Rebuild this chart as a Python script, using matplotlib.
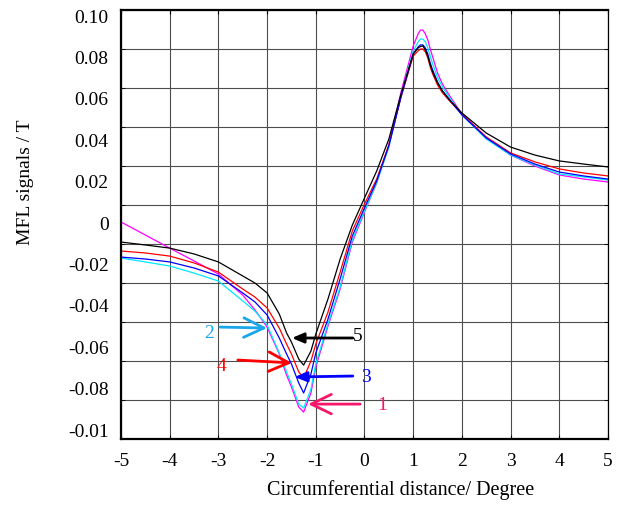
import matplotlib
matplotlib.use("Agg")
import matplotlib.pyplot as plt
import numpy as np

plt.rcParams['font.family'] = ['Liberation Serif', 'DejaVu Serif']
plt.rcParams['axes.unicode_minus'] = False

# circumferential position (degree)
x = [-5, -4.5, -4, -3.5, -3, -2.5, -2.25, -2, -1.75, -1.6,
     -1.5, -1.35, -1.25, -1.1, -1.0, -0.75, -0.5, -0.25, 0, 0.25,
     0.5, 0.75, 1.0, 1.1, 1.15, 1.2, 1.25, 1.3, 1.35, 1.4,
     1.5, 1.6, 1.75, 2, 2.5, 3, 3.5, 4, 4.5, 5]

# MFL signals (T)
curve5 = [-0.0190, -0.0205, -0.0221, -0.0251, -0.0292, -0.0364, -0.0400, -0.0451, -0.0559, -0.0656,
          -0.0703, -0.0790, -0.0821, -0.0749, -0.0662, -0.0482, -0.0277, -0.0103, 0.0036, 0.0174,
          0.0338, 0.0569, 0.0774, 0.0805, 0.0813, 0.0815, 0.0795, 0.0764, 0.0718, 0.0682,
          0.0626, 0.0585, 0.0538, 0.0472, 0.0369, 0.0297, 0.0256, 0.0226, 0.0210, 0.0195]
curve4 = [-0.0236, -0.0246, -0.0262, -0.0297, -0.0344, -0.0431, -0.0472, -0.0528, -0.0631, -0.0713,
          -0.0764, -0.0856, -0.0887, -0.0800, -0.0713, -0.0549, -0.0344, -0.0133, 0.0005, 0.0133,
          0.0308, 0.0554, 0.0764, 0.0790, 0.0800, 0.0800, 0.0785, 0.0754, 0.0708, 0.0672,
          0.0615, 0.0575, 0.0533, 0.0467, 0.0349, 0.0267, 0.0221, 0.0185, 0.0164, 0.0149]
curve3 = [-0.0267, -0.0277, -0.0292, -0.0323, -0.0364, -0.0451, -0.0497, -0.0564, -0.0682, -0.0764,
          -0.0815, -0.0913, -0.0964, -0.0867, -0.0759, -0.0585, -0.0379, -0.0159, -0.0015, 0.0123,
          0.0303, 0.0554, 0.0774, 0.0810, 0.0821, 0.0821, 0.0805, 0.0774, 0.0728, 0.0692,
          0.0631, 0.0585, 0.0538, 0.0462, 0.0344, 0.0262, 0.0210, 0.0169, 0.0149, 0.0133]
curve2 = [-0.0272, -0.0292, -0.0313, -0.0349, -0.0390, -0.0492, -0.0544, -0.0615, -0.0759, -0.0856,
          -0.0918, -0.1021, -0.1041, -0.0944, -0.0815, -0.0610, -0.0421, -0.0179, -0.0031, 0.0113,
          0.0297, 0.0559, 0.0790, 0.0836, 0.0851, 0.0851, 0.0836, 0.0805, 0.0764, 0.0723,
          0.0654, 0.0605, 0.0549, 0.0462, 0.0338, 0.0256, 0.0205, 0.0159, 0.0144, 0.0128]
curve1 = [-0.0087, -0.0154, -0.0221, -0.0287, -0.0354, -0.0462, -0.0538, -0.0626, -0.0764, -0.0872,
          -0.0933, -0.1036, -0.1062, -0.0964, -0.0831, -0.0621, -0.0431, -0.0190, -0.0036, 0.0113,
          0.0308, 0.0579, 0.0815, 0.0877, 0.0897, 0.0897, 0.0877, 0.0846, 0.0800, 0.0759,
          0.0677, 0.0620, 0.0559, 0.0467, 0.0344, 0.0256, 0.0200, 0.0154, 0.0133, 0.0118]

x_ticks = [-5, -4, -3, -2, -1, 0, 1, 2, 3, 4, 5]
x_ticklabels = ['-5', '-4', '-3', '-2', '-1', '0', '1', '2', '3', '4', '5']
y_ticklabels = ['0.10', '0.08', '0.06', '0.04', '0.02', '0',
                '-0.02', '-0.04', '-0.06', '-0.08', '-0.01']

fig = plt.figure(figsize=(6.18, 5.06), dpi=100)
ax = fig.add_axes([0.1958, 0.1304, 0.788, 0.8479])

ax.plot(x, curve1, color='#ff00ff', lw=0.9)
ax.plot(x, curve2, color='#00e8ff', lw=0.9)
ax.plot(x, curve4, color='#ff0000', lw=0.9)
ax.plot(x, curve3, color='#0000ff', lw=0.9)
ax.plot(x, curve5, color='black', lw=0.9)

ax.set_xlim(-5, 5)
ax.set_ylim(-0.12, 0.10)

# grid lines and inward ticks
ax.set_xticks(x_ticks)
ax.set_xticklabels(x_ticklabels, fontsize=14)
ax.set_yticks(np.arange(-0.12, 0.1001, 0.02), minor=True)
# the printed y labels sit slightly off the grid, as in the original figure
ax.set_yticks(np.linspace(0.0974, -0.1149, 11))
ax.set_yticklabels(y_ticklabels, fontsize=14)
ax.grid(True, axis='x', which='major', color='0.3', lw=0.8)
ax.grid(True, axis='y', which='minor', color='0.3', lw=0.8)
ax.tick_params(axis='x', which='major', direction='in', length=3, top=True,
               bottom=True, pad=9, colors='black')
ax.tick_params(axis='y', which='major', length=0, pad=9)
ax.tick_params(axis='y', which='minor', direction='in', length=3, left=True, right=True)

for side in ['left', 'bottom', 'top']:
    ax.spines[side].set_linewidth(1.6)
ax.spines['right'].set_linewidth(0.9)

ax.set_xlabel('Circumferential distance/ Degree', fontsize=14.5)
ax.set_ylabel('MFL signals / T', fontsize=14)
ax.xaxis.label.set_va('center')
ax.yaxis.label.set_va('center')
ax.xaxis.set_label_coords(0.575, -0.117)
ax.yaxis.set_label_coords(-0.197, 0.601)

# numbered arrows
open_head = '->, head_length=14.5, head_width=7'
solid_head = '-|>, head_length=7, head_width=3'
arrows = [
    ('1', '#f5176a', (-0.09, -0.1021), (-1.16, -0.1021), (0.36, -0.1021), open_head),
    ('2', '#19a7ea', (-2.97, -0.0626), (-2.0, -0.0631), (-3.19, -0.0656), open_head),
    ('3', '#0000ff', (-0.24, -0.0877), (-1.43, -0.0882), (0.03, -0.0877), solid_head),
    ('4', '#ff0000', (-2.60, -0.0795), (-1.49, -0.0810), (-2.93, -0.0821), open_head),
    ('5', 'black', (-0.24, -0.0682), (-1.49, -0.0682), (-0.13, -0.0667), solid_head),
]
for label, col, tail, tip, pos, style in arrows:
    ax.annotate('', xy=tip, xytext=tail,
                arrowprops=dict(arrowstyle=style, color=col, lw=2.0,
                                mutation_scale=1, shrinkA=0, shrinkB=0))
    ax.text(pos[0], pos[1], label, color=col, fontsize=14,
            ha='center', va='center')

fig.savefig('out.png', dpi=100)
